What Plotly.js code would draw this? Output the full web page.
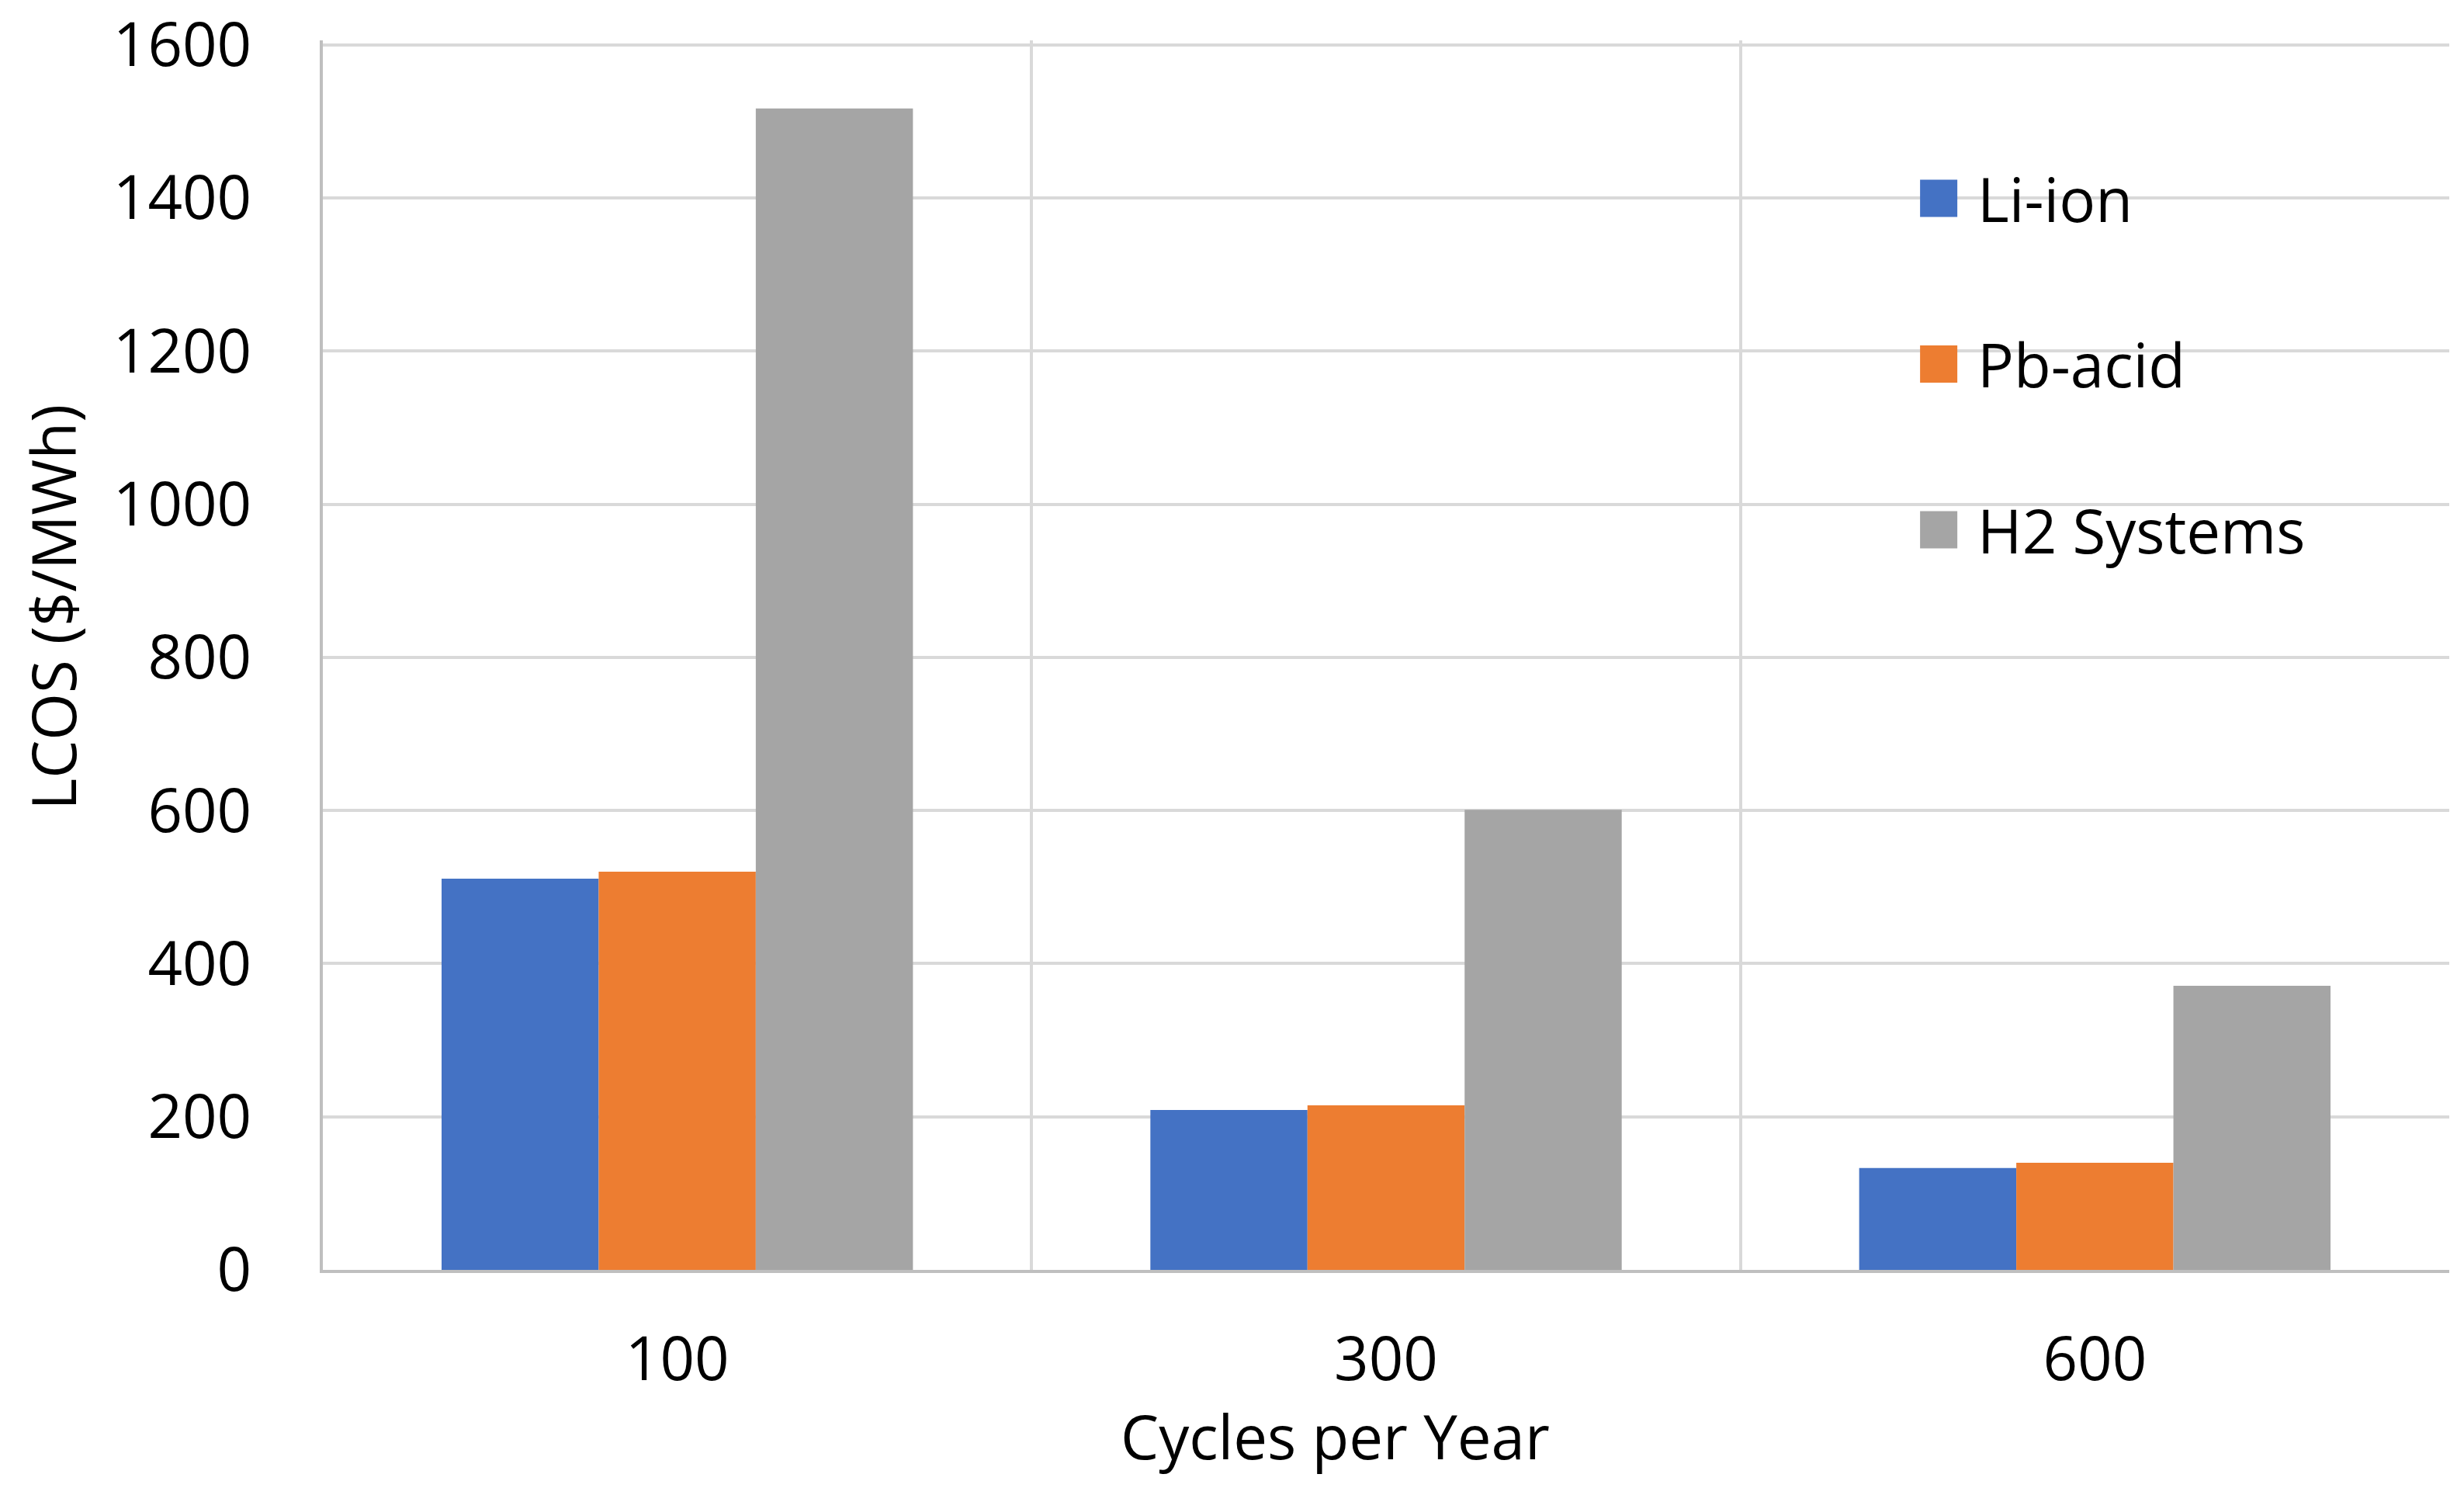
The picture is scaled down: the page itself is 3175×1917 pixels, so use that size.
<!DOCTYPE html>
<html>
<head>
<meta charset="utf-8">
<script src="https://cdn.plot.ly/plotly-3.0.1.min.js"></script>
<style>
html,body{margin:0;padding:0;background:#ffffff;overflow:hidden;width:3175px;height:1917px;}
#wrap{width:3175px;height:1917px;overflow:hidden;position:relative;background:#ffffff;}
#chart{position:absolute;left:0;top:0;width:794px;height:480px;transform:scale(4);transform-origin:0 0;}
#chart .legendtext{transform:translateX(-7.5px);}
</style>
</head>
<body>
<div id="wrap"><div id="chart"></div></div>
<script>
// ---- data ----
const categories = ['100', '300', '600'];
const seriesNames = ['Li-ion', 'Pb-acid', 'H2 Systems'];
const liIon = [511, 209, 133];
const pbAcid = [520, 215, 140];
const h2Systems = [1517, 601, 371];
const yTickValues = [0, 200, 400, 600, 800, 1000, 1200, 1400, 1600];
const yAxisTitle = 'LCOS ($/MWh)';
const xAxisTitle = 'Cycles per Year';

// ---- styling ----
const colors = ['#4472C4', '#ED7D31', '#A5A5A5'];
const fontFamily = '"Open Sans", "Noto Sans", sans-serif';
const fs = 19.5;
const seriesValues = [liIon, pbAcid, h2Systems];

const traces = seriesValues.map((vals, i) => ({
  type: 'bar',
  name: seriesNames[i],
  x: categories,
  y: vals,
  legendgroup: 'g' + i,
  marker: {color: colors[i], line: {width: 0}},
  hoverinfo: 'x+y+name'
}));

const layout = {
  width: 794,
  height: 480,
  margin: {l: 103.5, r: 4.5, t: 12.77, b: 71.25, pad: 0},
  paper_bgcolor: '#ffffff',
  plot_bgcolor: '#ffffff',
  font: {family: fontFamily, size: fs, color: '#000000'},
  barmode: 'group',
  bargap: 0.335,
  bargroupgap: 0,
  showlegend: true,
  legend: {
    x: 0.7307, y: 0.9199, xanchor: 'left', yanchor: 'top',
    bgcolor: 'rgba(0,0,0,0)', borderwidth: 0,
    font: {family: fontFamily, size: fs, color: '#000000'},
    traceorder: 'grouped', tracegroupgap: 25,
    itemclick: false, itemdoubleclick: false
  },
  xaxis: {
    type: 'category',
    tickson: 'boundaries',
    showgrid: true,
    gridcolor: '#D9D9D9',
    gridwidth: 1.1,
    showline: true,
    linecolor: '#BFBFBF',
    linewidth: 1.3,
    ticks: '',
    ticklabelstandoff: 11,
    tickfont: {family: fontFamily, size: fs, color: '#000000'},
    zeroline: false,
    fixedrange: true
  },
  yaxis: {
    range: [0, 1606],
    tickmode: 'array',
    tickvals: yTickValues,
    ticktext: yTickValues.map(String),
    showgrid: true,
    gridcolor: '#D9D9D9',
    gridwidth: 1.1,
    showline: true,
    linecolor: '#BFBFBF',
    linewidth: 1.1,
    ticks: '',
    ticklabelstandoff: 18,
    tickfont: {family: fontFamily, size: fs, color: '#000000'},
    zeroline: false,
    fixedrange: true
  },
  annotations: [
    {text: yAxisTitle, xref: 'paper', yref: 'paper', x: -0.1268, y: 0.5385,
     xanchor: 'center', yanchor: 'middle', textangle: -90, showarrow: false, borderpad: 0,
     font: {family: fontFamily, size: fs, color: '#000000'}},
    {text: xAxisTitle, xref: 'paper', yref: 'paper', x: 0.4756, y: -0.1351,
     xanchor: 'center', yanchor: 'middle', showarrow: false, borderpad: 0,
     font: {family: fontFamily, size: fs, color: '#000000'}}
  ]
};

Plotly.newPlot('chart', traces, layout, {displayModeBar: false, staticPlot: false, responsive: false});
</script>
</body>
</html>
